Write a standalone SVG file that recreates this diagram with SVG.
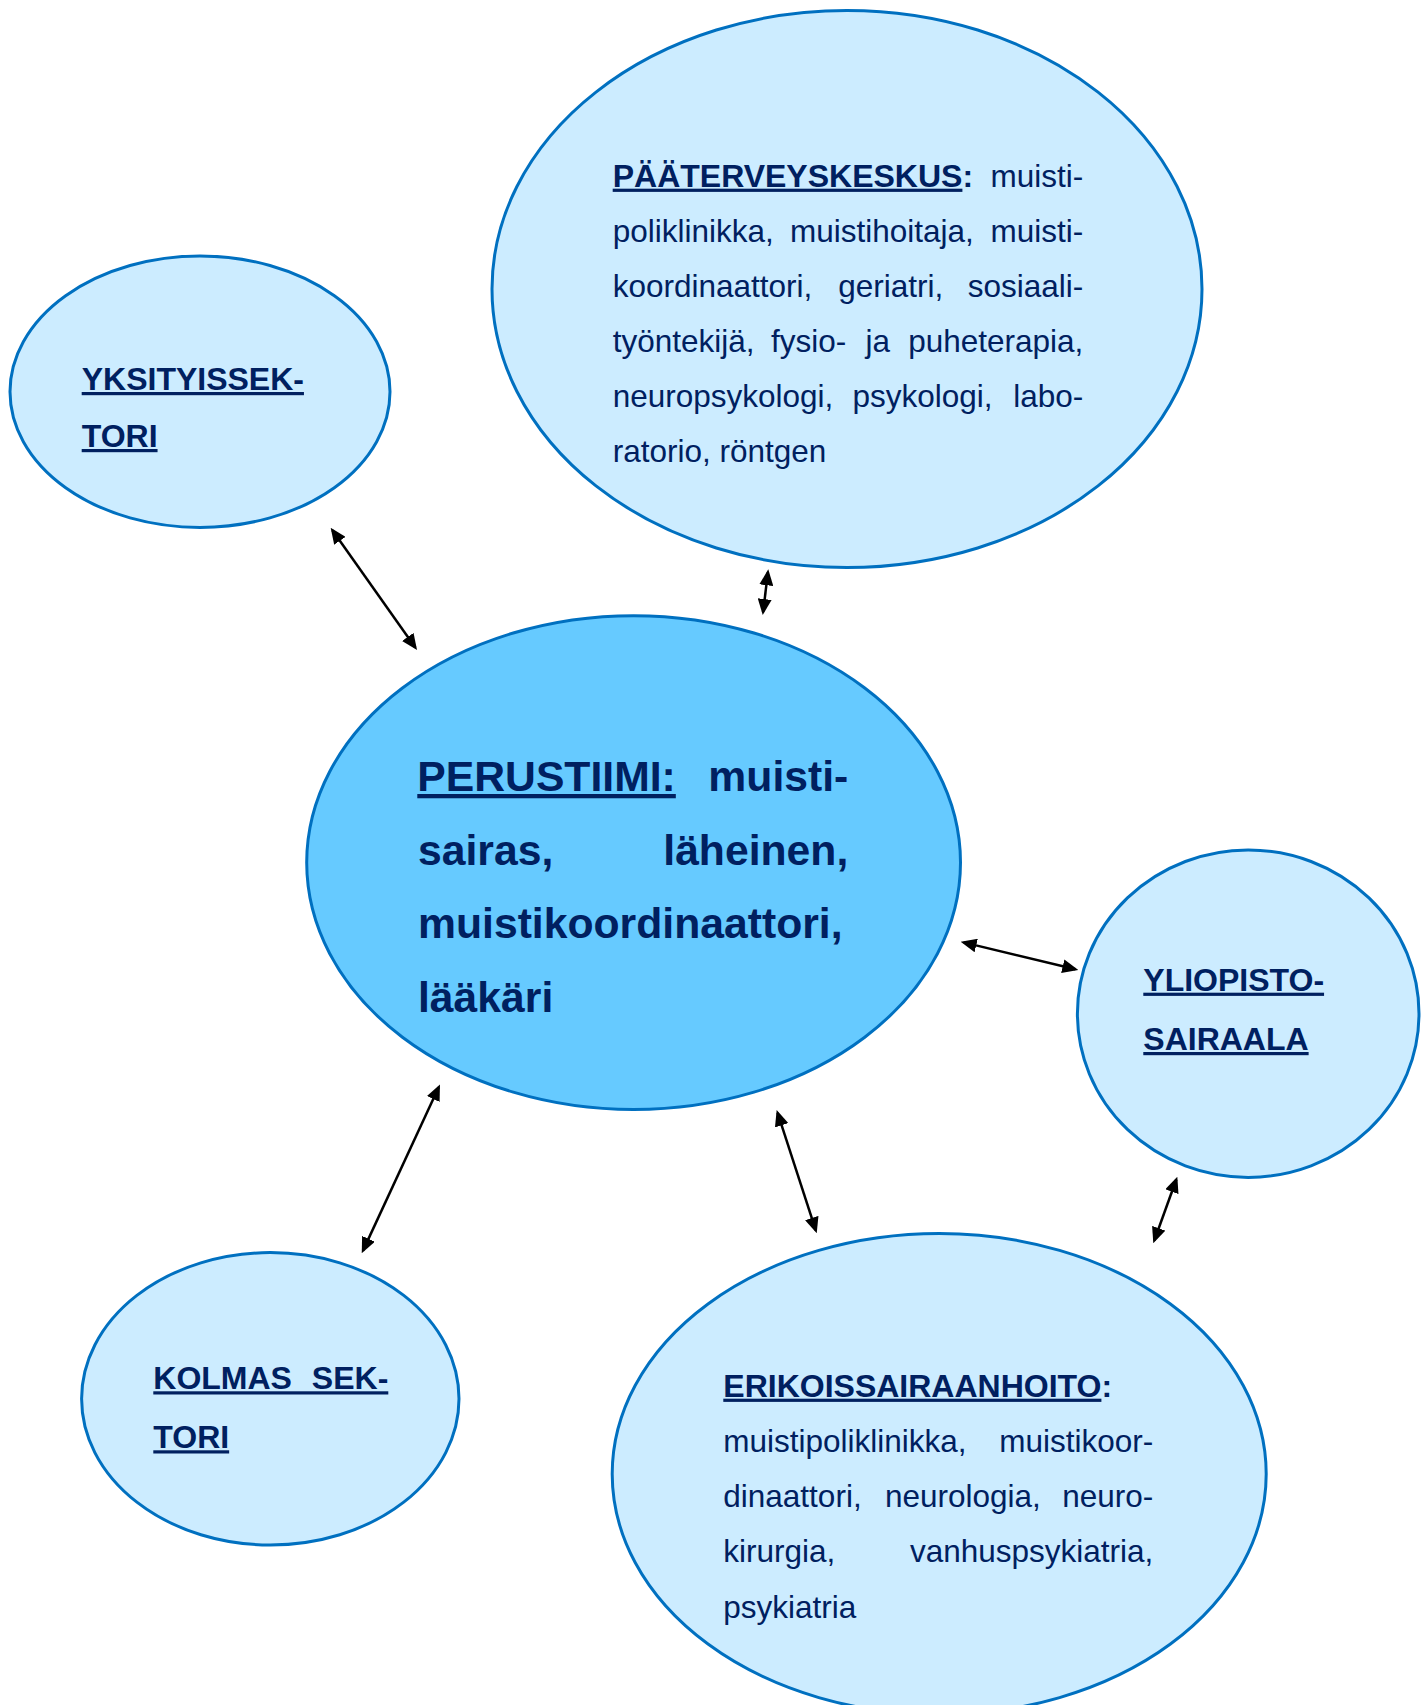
<svg xmlns="http://www.w3.org/2000/svg" width="1427" height="1705" viewBox="0 0 1427 1705">
<style>
.node{fill:#CCECFF;stroke:#0070C0;stroke-width:3}
.core{fill:#66CAFF;stroke:#0070C0;stroke-width:3}
text{font-family:"Liberation Sans",Arial,sans-serif;fill:#002060}
.t{font-size:31.5px}
.h{font-size:32px;font-weight:bold}
.c{font-size:42.7px;font-weight:bold}
.u{text-decoration:underline}
.e{text-anchor:end}
.conn line{stroke:#000;stroke-width:2.5;marker-start:url(#ah);marker-end:url(#ah)}
</style>
<defs>
<marker id="ah" viewBox="0 0 16 14" refX="13" refY="7" markerWidth="16" markerHeight="14" markerUnits="userSpaceOnUse" orient="auto-start-reverse">
<path d="M0,0 L16,7 L0,14 z" fill="#000"/>
</marker>
</defs>
<rect width="1427" height="1705" fill="#fff"/>

<g id="paaterveyskeskus">
<ellipse class="node" cx="847" cy="289" rx="355" ry="278.5"/>
<text class="t" y="186.7"><tspan x="612.7" class="h u">PÄÄTERVEYSKESKUS</tspan><tspan class="h">:</tspan></text>
<text class="t e" x="1083.3" y="186.7">muisti-</text>
<text class="t" x="612.7" y="241.7">poliklinikka,</text>
<text class="t" x="790" y="241.7">muistihoitaja,</text>
<text class="t e" x="1083.3" y="241.7">muisti-</text>
<text class="t" x="612.7" y="296.7">koordinaattori,</text>
<text class="t" x="838.3" y="296.7">geriatri,</text>
<text class="t e" x="1083.3" y="296.7">sosiaali-</text>
<text class="t" x="612.7" y="351.7">työntekijä,</text>
<text class="t" x="771" y="351.7">fysio-</text>
<text class="t" x="865.5" y="351.7">ja</text>
<text class="t e" x="1083.3" y="351.7">puheterapia,</text>
<text class="t" x="612.7" y="406.7">neuropsykologi,</text>
<text class="t" x="852.4" y="406.7">psykologi,</text>
<text class="t e" x="1083.3" y="406.7">labo-</text>
<text class="t" x="612.7" y="461.7">ratorio, röntgen</text>
</g>

<g id="yksityissektori">
<ellipse class="node" cx="200" cy="391.7" rx="190" ry="135.7"/>
<text class="h u" x="81.7" y="390">YKSITYISSEK-</text>
<text class="h u" x="81.7" y="447">TORI</text>
</g>

<g id="perustiimi">
<ellipse class="core" cx="633.6" cy="862.6" rx="326.9" ry="246.9"/>
<text class="c u" x="417.3" y="791">PERUSTIIMI:</text>
<text class="c e" x="848.3" y="791">muisti-</text>
<text class="c" x="418" y="864.5">sairas,</text>
<text class="c e" x="848.3" y="864.5">läheinen,</text>
<text class="c" x="418" y="938">muistikoordinaattori,</text>
<text class="c" x="418" y="1011.5">lääkäri</text>
</g>

<g id="yliopistosairaala">
<ellipse class="node" cx="1248.2" cy="1013.7" rx="170.8" ry="163.7"/>
<text class="h u" x="1143.3" y="990.7">YLIOPISTO-</text>
<text class="h u" x="1143.3" y="1050">SAIRAALA</text>
</g>

<g id="kolmassektori">
<ellipse class="node" cx="270.3" cy="1398.8" rx="188.7" ry="146.2"/>
<text class="h u" x="153.3" y="1389.3" word-spacing="11">KOLMAS SEK-</text>
<text class="h u" x="153.3" y="1448.3">TORI</text>
</g>

<g id="erikoissairaanhoito">
<ellipse class="node" cx="939.2" cy="1474" rx="327" ry="240.5"/>
<text class="t" y="1396.7"><tspan x="723.3" class="h u">ERIKOISSAIRAANHOITO</tspan><tspan class="h">:</tspan></text>
<text class="t" x="723.3" y="1451.7">muistipoliklinikka,</text>
<text class="t e" x="1153.3" y="1451.7">muistikoor-</text>
<text class="t" x="723.3" y="1507">dinaattori,</text>
<text class="t" x="885" y="1507">neurologia,</text>
<text class="t e" x="1153.3" y="1507">neuro-</text>
<text class="t" x="723.3" y="1562.3">kirurgia,</text>
<text class="t e" x="1153.3" y="1562.3">vanhuspsykiatria,</text>
<text class="t" x="723.3" y="1617.5">psykiatria</text>
</g>

<g id="connectors" class="conn">
<line x1="332.4" y1="530.2" x2="415.3" y2="647.5"/>
<line x1="767.9" y1="572.3" x2="763.1" y2="612.0"/>
<line x1="438.7" y1="1087.2" x2="363.0" y2="1250.6"/>
<line x1="777.6" y1="1112.9" x2="815.8" y2="1230.4"/>
<line x1="963.6" y1="942.4" x2="1075.4" y2="969.3"/>
<line x1="1176.3" y1="1179.5" x2="1154.3" y2="1240.5"/>
</g>
</svg>
